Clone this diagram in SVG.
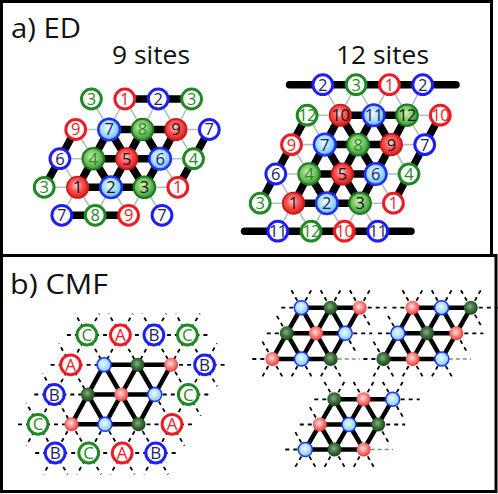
<svg xmlns="http://www.w3.org/2000/svg" width="498" height="494" viewBox="0 0 498 494">
<defs>
<radialGradient id="gR" cx="0.45" cy="0.42" r="0.6"><stop offset="0" stop-color="#ffd8d8"/><stop offset="0.45" stop-color="#ff5656"/><stop offset="1" stop-color="#d41616"/></radialGradient>
<radialGradient id="gB" cx="0.45" cy="0.42" r="0.6"><stop offset="0" stop-color="#f2fbff"/><stop offset="0.5" stop-color="#aadff8"/><stop offset="1" stop-color="#5cb4ea"/></radialGradient>
<radialGradient id="gG" cx="0.45" cy="0.42" r="0.6"><stop offset="0" stop-color="#d2f2bf"/><stop offset="0.5" stop-color="#7cc866"/><stop offset="1" stop-color="#2f8f2f"/></radialGradient>
<radialGradient id="sR" cx="0.45" cy="0.42" r="0.6"><stop offset="0" stop-color="#ffe4e4"/><stop offset="0.5" stop-color="#ff8484"/><stop offset="1" stop-color="#e63030"/></radialGradient>
<radialGradient id="sB" cx="0.45" cy="0.42" r="0.6"><stop offset="0" stop-color="#f0fbff"/><stop offset="1" stop-color="#7ccaf2"/></radialGradient>
<radialGradient id="sG" cx="0.45" cy="0.42" r="0.6"><stop offset="0" stop-color="#86b086"/><stop offset="0.5" stop-color="#3e703e"/><stop offset="1" stop-color="#1a3f1a"/></radialGradient>
</defs>
<style>
.frame{fill:none;stroke:#000;stroke-width:3}
.gl{fill:none;stroke:#b3bfc0;stroke-width:1.6}
.k{fill:none;stroke:#000;stroke-width:7.5;stroke-linecap:round;stroke-linejoin:round}
.kc{fill:none;stroke:#000;stroke-width:4.5;stroke-linecap:round;stroke-linejoin:round}
.d{fill:none;stroke:#000;stroke-width:1.8;stroke-dasharray:4 4}
.dg{fill:none;stroke:#6f9f5f;stroke-width:1.3;stroke-dasharray:4 3}
.or{fill:#fff;stroke:#ec1c24;stroke-width:3}
.ob{fill:#fff;stroke:#1f1ff5;stroke-width:3}
.og{fill:#fff;stroke:#1f8a24;stroke-width:3}
.fr{fill:url(#gR);stroke:#c41a1a;stroke-width:1.5}
.fb{fill:url(#gB);stroke:#1f2ff5;stroke-width:2.5}
.fg{fill:url(#gG);stroke:#1f7a1f;stroke-width:2}
.sr{fill:url(#sR)}
.sb{fill:url(#sB);stroke:#1a35ff;stroke-width:1.5}
.sg{fill:url(#sG)}
text{font-family:"Open Sans","Liberation Sans",sans-serif;text-anchor:middle}
.n{font-size:16.5px}
.w{letter-spacing:-0.6px}
.L{font-size:17px}
.tr{fill:#ec1c24}.tb{fill:#22226b}.tg{fill:#2b8a2b}.tk{fill:#111}
.title{font-size:28px;text-anchor:start;fill:#111}
.sub{font-size:26px;text-anchor:start;fill:#111}
</style>
<rect width="498" height="494" fill="#fff"/>
<rect class="frame" x="1.5" y="1.5" width="490" height="254"/>
<rect class="frame" x="1.5" y="255.5" width="494.5" height="236"/>
<text class="title" x="11" y="37.5" textLength="70" lengthAdjust="spacingAndGlyphs">a) ED</text>
<text class="sub" x="112" y="64" textLength="78" lengthAdjust="spacingAndGlyphs">9 sites</text>
<text class="sub" x="336" y="64.3" textLength="93" lengthAdjust="spacingAndGlyphs">12 sites</text>
<text class="title" x="10" y="293.5" textLength="98" lengthAdjust="spacingAndGlyphs">b) CMF</text>

<g id="connectors">
<g id="ed9-gray" class="gl">
<path d="M109.1 129.5L91.4 99M109.1 129.5L124.8 99M109.1 129.5L75.7 129.5M142.5 129.5L124.8 99M142.5 129.5L158.2 99M175.9 129.5L158.2 99M175.9 129.5L191.6 99M175.9 129.5L209.3 129.5M175.9 129.5L193.5 158.7M93.3 158.7L59.9 158.7M93.3 158.7L75.7 129.5M160.1 158.7L193.5 158.7M160.1 158.7L177.8 187.3M77.6 187.3L44.2 187.3M77.6 187.3L59.9 158.7M77.6 187.3L61.8 215.3M77.6 187.3L95.2 215.3M111 187.3L95.2 215.3M111 187.3L128.6 215.3M144.4 187.3L177.8 187.3M144.4 187.3L128.6 215.3M144.4 187.3L162 215.3"/>
</g>
<g id="ed9-bonds" class="k">
<path d="M109.1 129.5H175.9M93.3 158.7H160.1M77.6 187.3H144.4M124.8 99H191.6M61.8 215.3H128.6"/>
<path d="M75.7 129.5L59.9 158.7L44.2 187.3M209.3 129.5L193.5 158.7L177.8 187.3"/>
<path d="M109.1 129.5L93.3 158.7L77.6 187.3M142.5 129.5L126.7 158.7L111 187.3M175.9 129.5L160.1 158.7L144.4 187.3"/>
<path d="M109.1 129.5L126.7 158.7L144.4 187.3M142.5 129.5L160.1 158.7M93.3 158.7L111 187.3"/>
</g>
<g id="ed12-gray" class="gl">
<path d="M340.4 115.2L322.8 84.7M340.4 115.2L356.1 84.7M340.4 115.2L307.1 115.2M373.7 115.2L356.1 84.7M373.7 115.2L389.4 84.7M407 115.2L389.4 84.7M407 115.2L422.7 84.7M407 115.2L440.3 115.2M407 115.2L424.7 144.6M324.8 144.6L291.5 144.6M324.8 144.6L307.1 115.2M391.4 144.6L424.7 144.6M391.4 144.6L409 174M309.1 174L275.8 174M309.1 174L291.5 144.6M375.7 174L409 174M375.7 174L393.4 203.2M293.5 203.2L260.2 203.2M293.5 203.2L275.8 174M293.5 203.2L277.8 231.2M293.5 203.2L311.1 231.2M326.8 203.2L311.1 231.2M326.8 203.2L344.4 231.2M360.1 203.2L393.4 203.2M360.1 203.2L344.4 231.2M360.1 203.2L377.7 231.2"/>
</g>
<g id="ed12-bonds" class="k">
<path d="M340.4 115.2H407M324.8 144.6H391.4M309.1 174H375.7M293.5 203.2H360.1M289.5 84.7H456M244.5 231.2H411"/>
<path d="M307.1 115.2L291.5 144.6L275.8 174L260.2 203.2M440.3 115.2L424.7 144.6L409 174L393.4 203.2"/>
<path d="M340.4 115.2L324.8 144.6L309.1 174L293.5 203.2M373.7 115.2L358.1 144.6L342.4 174L326.8 203.2M407 115.2L391.4 144.6L375.7 174L360.1 203.2"/>
<path d="M340.4 115.2L358.1 144.6L375.7 174M373.7 115.2L391.4 144.6M324.8 144.6L342.4 174L360.1 203.2M309.1 174L326.8 203.2"/>
</g>
<g id="cmf-dashed" class="d">
<path d="M86.9 335H187.4M70.6 364.8H104.1M171.1 364.8H204.6M54.3 394.5H87.8M154.8 394.5H188.3M38 424.3H71.5M138.5 424.3H172M55.2 453H155.7"/>
<path d="M86.9 335L70.6 364.8M120.4 335L104.1 364.8M153.9 335L137.6 364.8M187.4 335L171.1 364.8M70.6 364.8L54.3 394.5M204.6 364.8L188.3 394.5M54.3 394.5L38 424.3M188.3 394.5L172 424.3M71.5 424.3L55.2 453M105 424.3L88.7 453M138.5 424.3L122.2 453M172 424.3L155.7 453"/>
<path d="M86.9 335L104.1 364.8M120.4 335L137.6 364.8M153.9 335L171.1 364.8M187.4 335L204.6 364.8M70.6 364.8L87.8 394.5M171.1 364.8L188.3 394.5M54.3 394.5L71.5 424.3M154.8 394.5L172 424.3M38 424.3L55.2 453M71.5 424.3L88.7 453M105 424.3L122.2 453M138.5 424.3L155.7 453"/>
<path d="M86.9 335L75.2 313.6M86.9 335L99.3 313.6M86.9 335H62.9M120.4 335L108.7 313.6M120.4 335L132.8 313.6M153.9 335L142.2 313.6M153.9 335L166.3 313.6M187.4 335L175.7 313.6M187.4 335L199.8 313.6M187.4 335H211.4M70.6 364.8H46.6M70.6 364.8L58.9 343.4M204.6 364.8H228.6M204.6 364.8L217 343.4M204.6 364.8L217 386.2M54.3 394.5H30.3M54.3 394.5L42.6 373.1M188.3 394.5H212.3M188.3 394.5L200.7 415.9M38 424.3H14M38 424.3L26.3 402.9M38 424.3L26.3 445.7M172 424.3H196M172 424.3L184.4 445.7M55.2 453H31.2M55.2 453L43.5 474.4M55.2 453L67.6 474.4M88.7 453L77 474.4M88.7 453L101.1 474.4M122.2 453L110.5 474.4M122.2 453L134.6 474.4M155.7 453L144 474.4M155.7 453L168.1 474.4M155.7 453H179.7"/>
</g>
<g id="cmf-bonds" class="kc">
<path d="M104.1 364.8H171.1M87.8 394.5H154.8M71.5 424.3H138.5"/>
<path d="M104.1 364.8L87.8 394.5L71.5 424.3M137.6 364.8L121.3 394.5L105 424.3M171.1 364.8L154.8 394.5L138.5 424.3"/>
<path d="M104.1 364.8L121.3 394.5L138.5 424.3M137.6 364.8L154.8 394.5M87.8 394.5L105 424.3"/>
</g>
<g id="clA-lines">
<path class="d" d="M301.3 307.7L290.4 288.5M301.3 307.7L312.3 288.5M301.3 307.7H280.3M330.5 307.7L319.6 288.5M330.5 307.7L341.5 288.5M359.7 307.7L348.8 288.5M359.7 307.7L370.7 288.5M359.7 307.7H386.7M359.7 307.7L370.7 326.9M286.8 333.3H265.8M286.8 333.3L275.9 314.1M345.2 333.3H372.2M345.2 333.3L356.2 352.5M272.3 359H251.3M272.3 359L261.4 339.8M272.3 359L261.4 378.2M272.3 359L283.3 378.2M301.5 359L290.6 378.2M301.5 359L312.5 378.2M330.7 359L319.8 378.2M330.7 359L341.7 378.2"/>
<path class="dg" d="M337.7 359H359.9"/>
<path class="kc" d="M301.3 307.7H359.7M286.8 333.3H345.2M272.3 359H330.7M301.3 307.7L286.8 333.3L272.3 359M330.5 307.7L316 333.3L301.5 359M359.7 307.7L345.2 333.3L330.7 359M301.3 307.7L316 333.3L330.7 359M330.5 307.7L345.2 333.3M286.8 333.3L301.5 359"/>
</g>
<g id="clB-lines">
<path class="d" d="M412.4 307.7L401.5 288.5M412.4 307.7L423.4 288.5M412.4 307.7H391.4M441.6 307.7L430.7 288.5M441.6 307.7L452.6 288.5M470.8 307.7L459.9 288.5M470.8 307.7L481.8 288.5M470.8 307.7H497.8M470.8 307.7L481.8 326.9M397.9 333.3H376.9M397.9 333.3L387 314.1M456.3 333.3H483.3M456.3 333.3L467.3 352.5M383.4 359H362.4M383.4 359L372.5 339.8M383.4 359L372.5 378.2M383.4 359L394.4 378.2M412.6 359L401.7 378.2M412.6 359L423.6 378.2M441.8 359L430.9 378.2M441.8 359L452.8 378.2"/>
<path class="dg" d="M448.8 359H471"/>
<path class="kc" d="M412.4 307.7H470.8M397.9 333.3H456.3M383.4 359H441.8M412.4 307.7L397.9 333.3L383.4 359M441.6 307.7L427.1 333.3L412.6 359M470.8 307.7L456.3 333.3L441.8 359M412.4 307.7L427.1 333.3L441.8 359M441.6 307.7L456.3 333.3M397.9 333.3L412.6 359"/>
</g>
<g id="clC-lines">
<path class="d" d="M334.3 399.3L323.4 380.3M334.3 399.3L345.3 380.3M334.3 399.3H313.3M363.5 399.3L352.6 380.3M363.5 399.3L374.5 380.3M392.7 399.3L381.8 380.3M392.7 399.3L403.7 380.3M392.7 399.3H419.7M392.7 399.3L403.7 418.3M319.8 424.5H298.8M319.8 424.5L308.9 405.5M378.2 424.5H405.2M378.2 424.5L389.2 443.5M305.3 449.5H284.3M305.3 449.5L294.4 430.5M305.3 449.5L294.4 468.5M305.3 449.5L316.3 468.5M334.5 449.5L323.6 468.5M334.5 449.5L345.5 468.5M363.7 449.5L352.8 468.5M363.7 449.5L374.7 468.5"/>
<path class="dg" d="M370.7 449.5H392.9"/>
<path class="kc" d="M334.3 399.3H392.7M319.8 424.5H378.2M305.3 449.5H363.7M334.3 399.3L319.8 424.5L305.3 449.5M363.5 399.3L349 424.5L334.5 449.5M392.7 399.3L378.2 424.5L363.7 449.5M334.3 399.3L349 424.5L363.7 449.5M363.5 399.3L378.2 424.5M319.8 424.5L334.5 449.5"/>
</g>
</g>

<g id="ed9-nodes">
<g id="ed9-a"><circle class="og" cx="91.4" cy="99" r="9.9"/><text class="n tg" x="91.4" y="104.9">3</text></g>
<g id="ed9-b"><circle class="or" cx="124.8" cy="99" r="9.9"/><text class="n tr" x="124.8" y="104.9">1</text></g>
<g id="ed9-c"><circle class="ob" cx="158.2" cy="99" r="9.9"/><text class="n tb" x="158.2" y="104.9">2</text></g>
<g id="ed9-d"><circle class="og" cx="191.6" cy="99" r="9.9"/><text class="n tg" x="191.6" y="104.9">3</text></g>
<g id="ed9-e"><circle class="or" cx="75.7" cy="129.5" r="9.9"/><text class="n tr" x="75.7" y="135.4">9</text></g>
<g id="ed9-s7"><circle class="fb" cx="109.1" cy="129.5" r="10.8"/><text class="n tb" x="109.1" y="135.4">7</text></g>
<g id="ed9-s8"><circle class="fg" cx="142.5" cy="129.5" r="10.8"/><text class="n tg" x="142.5" y="135.4">8</text></g>
<g id="ed9-s9"><circle class="fr" cx="175.9" cy="129.5" r="10.8"/><text class="n tk" x="175.9" y="135.4">9</text></g>
<g id="ed9-f"><circle class="ob" cx="209.3" cy="129.5" r="9.9"/><text class="n tb" x="209.3" y="135.4">7</text></g>
<g id="ed9-g"><circle class="ob" cx="59.9" cy="158.7" r="9.9"/><text class="n tb" x="59.9" y="164.6">6</text></g>
<g id="ed9-s4"><circle class="fg" cx="93.3" cy="158.7" r="10.8"/><text class="n tg" x="93.3" y="164.6">4</text></g>
<g id="ed9-s5"><circle class="fr" cx="126.7" cy="158.7" r="10.8"/><text class="n tk" x="126.7" y="164.6">5</text></g>
<g id="ed9-s6"><circle class="fb" cx="160.1" cy="158.7" r="10.8"/><text class="n tb" x="160.1" y="164.6">6</text></g>
<g id="ed9-h"><circle class="og" cx="193.5" cy="158.7" r="9.9"/><text class="n tg" x="193.5" y="164.6">4</text></g>
<g id="ed9-i"><circle class="og" cx="44.2" cy="187.3" r="9.9"/><text class="n tg" x="44.2" y="193.2">3</text></g>
<g id="ed9-s1"><circle class="fr" cx="77.6" cy="187.3" r="10.8"/><text class="n tk" x="77.6" y="193.2">1</text></g>
<g id="ed9-s2"><circle class="fb" cx="111" cy="187.3" r="10.8"/><text class="n tk" x="111" y="193.2">2</text></g>
<g id="ed9-s3"><circle class="fg" cx="144.4" cy="187.3" r="10.8"/><text class="n tk" x="144.4" y="193.2">3</text></g>
<g id="ed9-j"><circle class="or" cx="177.8" cy="187.3" r="9.9"/><text class="n tr" x="177.8" y="193.2">1</text></g>
<g id="ed9-k"><circle class="ob" cx="61.8" cy="215.3" r="9.9"/><text class="n tb" x="61.8" y="221.2">7</text></g>
<g id="ed9-l"><circle class="og" cx="95.2" cy="215.3" r="9.9"/><text class="n tg" x="95.2" y="221.2">8</text></g>
<g id="ed9-m"><circle class="or" cx="128.6" cy="215.3" r="9.9"/><text class="n tr" x="128.6" y="221.2">9</text></g>
<g id="ed9-o"><circle class="ob" cx="162" cy="215.3" r="9.9"/><text class="n tb" x="162" y="221.2">7</text></g>
</g>

<g id="ed12-nodes">
<g id="ed12-a"><circle class="ob" cx="322.8" cy="84.7" r="9.9"/><text class="n tb" x="322.8" y="90.6">2</text></g>
<g id="ed12-b"><circle class="og" cx="356.1" cy="84.7" r="9.9"/><text class="n tg" x="356.1" y="90.6">3</text></g>
<g id="ed12-c"><circle class="or" cx="389.4" cy="84.7" r="9.9"/><text class="n tr" x="389.4" y="90.6">1</text></g>
<g id="ed12-d"><circle class="ob" cx="422.7" cy="84.7" r="9.9"/><text class="n tb" x="422.7" y="90.6">2</text></g>
<g id="ed12-e"><circle class="og" cx="307.1" cy="115.2" r="9.9"/><text class="n w tg" x="307.1" y="121.1">12</text></g>
<g id="ed12-s10"><circle class="fr" cx="340.4" cy="115.2" r="10.8"/><text class="n w tk" x="340.4" y="121.1">10</text></g>
<g id="ed12-s11"><circle class="fb" cx="373.7" cy="115.2" r="10.8"/><text class="n w tb" x="373.7" y="121.1">11</text></g>
<g id="ed12-s12"><circle class="fg" cx="407" cy="115.2" r="10.8"/><text class="n w tk" x="407" y="121.1">12</text></g>
<g id="ed12-f"><circle class="or" cx="440.3" cy="115.2" r="9.9"/><text class="n w tr" x="440.3" y="121.1">10</text></g>
<g id="ed12-g"><circle class="or" cx="291.5" cy="144.6" r="9.9"/><text class="n tr" x="291.5" y="150.5">9</text></g>
<g id="ed12-s7"><circle class="fb" cx="324.8" cy="144.6" r="10.8"/><text class="n tb" x="324.8" y="150.5">7</text></g>
<g id="ed12-s8"><circle class="fg" cx="358.1" cy="144.6" r="10.8"/><text class="n tg" x="358.1" y="150.5">8</text></g>
<g id="ed12-s9"><circle class="fr" cx="391.4" cy="144.6" r="10.8"/><text class="n tk" x="391.4" y="150.5">9</text></g>
<g id="ed12-h"><circle class="ob" cx="424.7" cy="144.6" r="9.9"/><text class="n tb" x="424.7" y="150.5">7</text></g>
<g id="ed12-i"><circle class="ob" cx="275.8" cy="174" r="9.9"/><text class="n tb" x="275.8" y="179.9">6</text></g>
<g id="ed12-s4"><circle class="fg" cx="309.1" cy="174" r="10.8"/><text class="n tg" x="309.1" y="179.9">4</text></g>
<g id="ed12-s5"><circle class="fr" cx="342.4" cy="174" r="10.8"/><text class="n tk" x="342.4" y="179.9">5</text></g>
<g id="ed12-s6"><circle class="fb" cx="375.7" cy="174" r="10.8"/><text class="n tb" x="375.7" y="179.9">6</text></g>
<g id="ed12-j"><circle class="og" cx="409" cy="174" r="9.9"/><text class="n tg" x="409" y="179.9">4</text></g>
<g id="ed12-k"><circle class="og" cx="260.2" cy="203.2" r="9.9"/><text class="n tg" x="260.2" y="209.1">3</text></g>
<g id="ed12-s1"><circle class="fr" cx="293.5" cy="203.2" r="10.8"/><text class="n tk" x="293.5" y="209.1">1</text></g>
<g id="ed12-s2"><circle class="fb" cx="326.8" cy="203.2" r="10.8"/><text class="n tb" x="326.8" y="209.1">2</text></g>
<g id="ed12-s3"><circle class="fg" cx="360.1" cy="203.2" r="10.8"/><text class="n tk" x="360.1" y="209.1">3</text></g>
<g id="ed12-l"><circle class="or" cx="393.4" cy="203.2" r="9.9"/><text class="n tr" x="393.4" y="209.1">1</text></g>
<g id="ed12-m"><circle class="ob" cx="277.8" cy="231.2" r="9.9"/><text class="n w tb" x="277.8" y="237.1">11</text></g>
<g id="ed12-o"><circle class="og" cx="311.1" cy="231.2" r="9.9"/><text class="n w tg" x="311.1" y="237.1">12</text></g>
<g id="ed12-p"><circle class="or" cx="344.4" cy="231.2" r="9.9"/><text class="n w tr" x="344.4" y="237.1">10</text></g>
<g id="ed12-q"><circle class="ob" cx="377.7" cy="231.2" r="9.9"/><text class="n w tb" x="377.7" y="237.1">11</text></g>
</g>

<g id="cmf-nodes">
<g id="cmf-o1"><circle class="og" cx="86.9" cy="335" r="9.9"/><text class="L tg" x="86.9" y="341.1">C</text></g>
<g id="cmf-o2"><circle class="or" cx="120.4" cy="335" r="9.9"/><text class="L tr" x="120.4" y="341.1">A</text></g>
<g id="cmf-o3"><circle class="ob" cx="153.9" cy="335" r="9.9"/><text class="L tb" x="153.9" y="341.1">B</text></g>
<g id="cmf-o4"><circle class="og" cx="187.4" cy="335" r="9.9"/><text class="L tg" x="187.4" y="341.1">C</text></g>
<g id="cmf-o5"><circle class="or" cx="70.6" cy="364.8" r="9.9"/><text class="L tr" x="70.6" y="370.9">A</text></g>
<g id="cmf-o6"><circle class="ob" cx="204.6" cy="364.8" r="9.9"/><text class="L tb" x="204.6" y="370.9">B</text></g>
<g id="cmf-o7"><circle class="ob" cx="54.3" cy="394.5" r="9.9"/><text class="L tb" x="54.3" y="400.6">B</text></g>
<g id="cmf-o8"><circle class="og" cx="188.3" cy="394.5" r="9.9"/><text class="L tg" x="188.3" y="400.6">C</text></g>
<g id="cmf-o9"><circle class="og" cx="38" cy="424.3" r="9.9"/><text class="L tg" x="38" y="430.4">C</text></g>
<g id="cmf-o10"><circle class="or" cx="172" cy="424.3" r="9.9"/><text class="L tr" x="172" y="430.4">A</text></g>
<g id="cmf-o11"><circle class="ob" cx="55.2" cy="453" r="9.9"/><text class="L tb" x="55.2" y="459.1">B</text></g>
<g id="cmf-o12"><circle class="og" cx="88.7" cy="453" r="9.9"/><text class="L tg" x="88.7" y="459.1">C</text></g>
<g id="cmf-o13"><circle class="or" cx="122.2" cy="453" r="9.9"/><text class="L tr" x="122.2" y="459.1">A</text></g>
<g id="cmf-o14"><circle class="ob" cx="155.7" cy="453" r="9.9"/><text class="L tb" x="155.7" y="459.1">B</text></g>
<g id="cmf-s1"><circle class="sb" cx="104.1" cy="364.8" r="7"/></g>
<g id="cmf-s2"><circle class="sg" cx="137.6" cy="364.8" r="7"/></g>
<g id="cmf-s3"><circle class="sr" cx="171.1" cy="364.8" r="7"/></g>
<g id="cmf-s4"><circle class="sg" cx="87.8" cy="394.5" r="7"/></g>
<g id="cmf-s5"><circle class="sr" cx="121.3" cy="394.5" r="7"/></g>
<g id="cmf-s6"><circle class="sb" cx="154.8" cy="394.5" r="7"/></g>
<g id="cmf-s7"><circle class="sr" cx="71.5" cy="424.3" r="7"/></g>
<g id="cmf-s8"><circle class="sb" cx="105" cy="424.3" r="7"/></g>
<g id="cmf-s9"><circle class="sg" cx="138.5" cy="424.3" r="7"/></g>
</g>

<g id="clA-nodes">
<g id="clA-1"><circle class="sb" cx="301.3" cy="307.7" r="7"/></g>
<g id="clA-2"><circle class="sg" cx="330.5" cy="307.7" r="7"/></g>
<g id="clA-3"><circle class="sr" cx="359.7" cy="307.7" r="7"/></g>
<g id="clA-4"><circle class="sg" cx="286.8" cy="333.3" r="7"/></g>
<g id="clA-5"><circle class="sr" cx="316" cy="333.3" r="7"/></g>
<g id="clA-6"><circle class="sb" cx="345.2" cy="333.3" r="7"/></g>
<g id="clA-7"><circle class="sr" cx="272.3" cy="359" r="7"/></g>
<g id="clA-8"><circle class="sb" cx="301.5" cy="359" r="7"/></g>
<g id="clA-9"><circle class="sg" cx="330.7" cy="359" r="7"/></g>
</g>
<g id="clB-nodes">
<g id="clB-1"><circle class="sr" cx="412.4" cy="307.7" r="7"/></g>
<g id="clB-2"><circle class="sb" cx="441.6" cy="307.7" r="7"/></g>
<g id="clB-3"><circle class="sg" cx="470.8" cy="307.7" r="7"/></g>
<g id="clB-4"><circle class="sb" cx="397.9" cy="333.3" r="7"/></g>
<g id="clB-5"><circle class="sg" cx="427.1" cy="333.3" r="7"/></g>
<g id="clB-6"><circle class="sr" cx="456.3" cy="333.3" r="7"/></g>
<g id="clB-7"><circle class="sg" cx="383.4" cy="359" r="7"/></g>
<g id="clB-8"><circle class="sr" cx="412.6" cy="359" r="7"/></g>
<g id="clB-9"><circle class="sb" cx="441.8" cy="359" r="7"/></g>
</g>
<g id="clC-nodes">
<g id="clC-1"><circle class="sg" cx="334.3" cy="399.3" r="7"/></g>
<g id="clC-2"><circle class="sr" cx="363.5" cy="399.3" r="7"/></g>
<g id="clC-3"><circle class="sb" cx="392.7" cy="399.3" r="7"/></g>
<g id="clC-4"><circle class="sr" cx="319.8" cy="424.5" r="7"/></g>
<g id="clC-5"><circle class="sb" cx="349" cy="424.5" r="7"/></g>
<g id="clC-6"><circle class="sg" cx="378.2" cy="424.5" r="7"/></g>
<g id="clC-7"><circle class="sb" cx="305.3" cy="449.5" r="7"/></g>
<g id="clC-8"><circle class="sg" cx="334.5" cy="449.5" r="7"/></g>
<g id="clC-9"><circle class="sr" cx="363.7" cy="449.5" r="7"/></g>
</g>
</svg>
